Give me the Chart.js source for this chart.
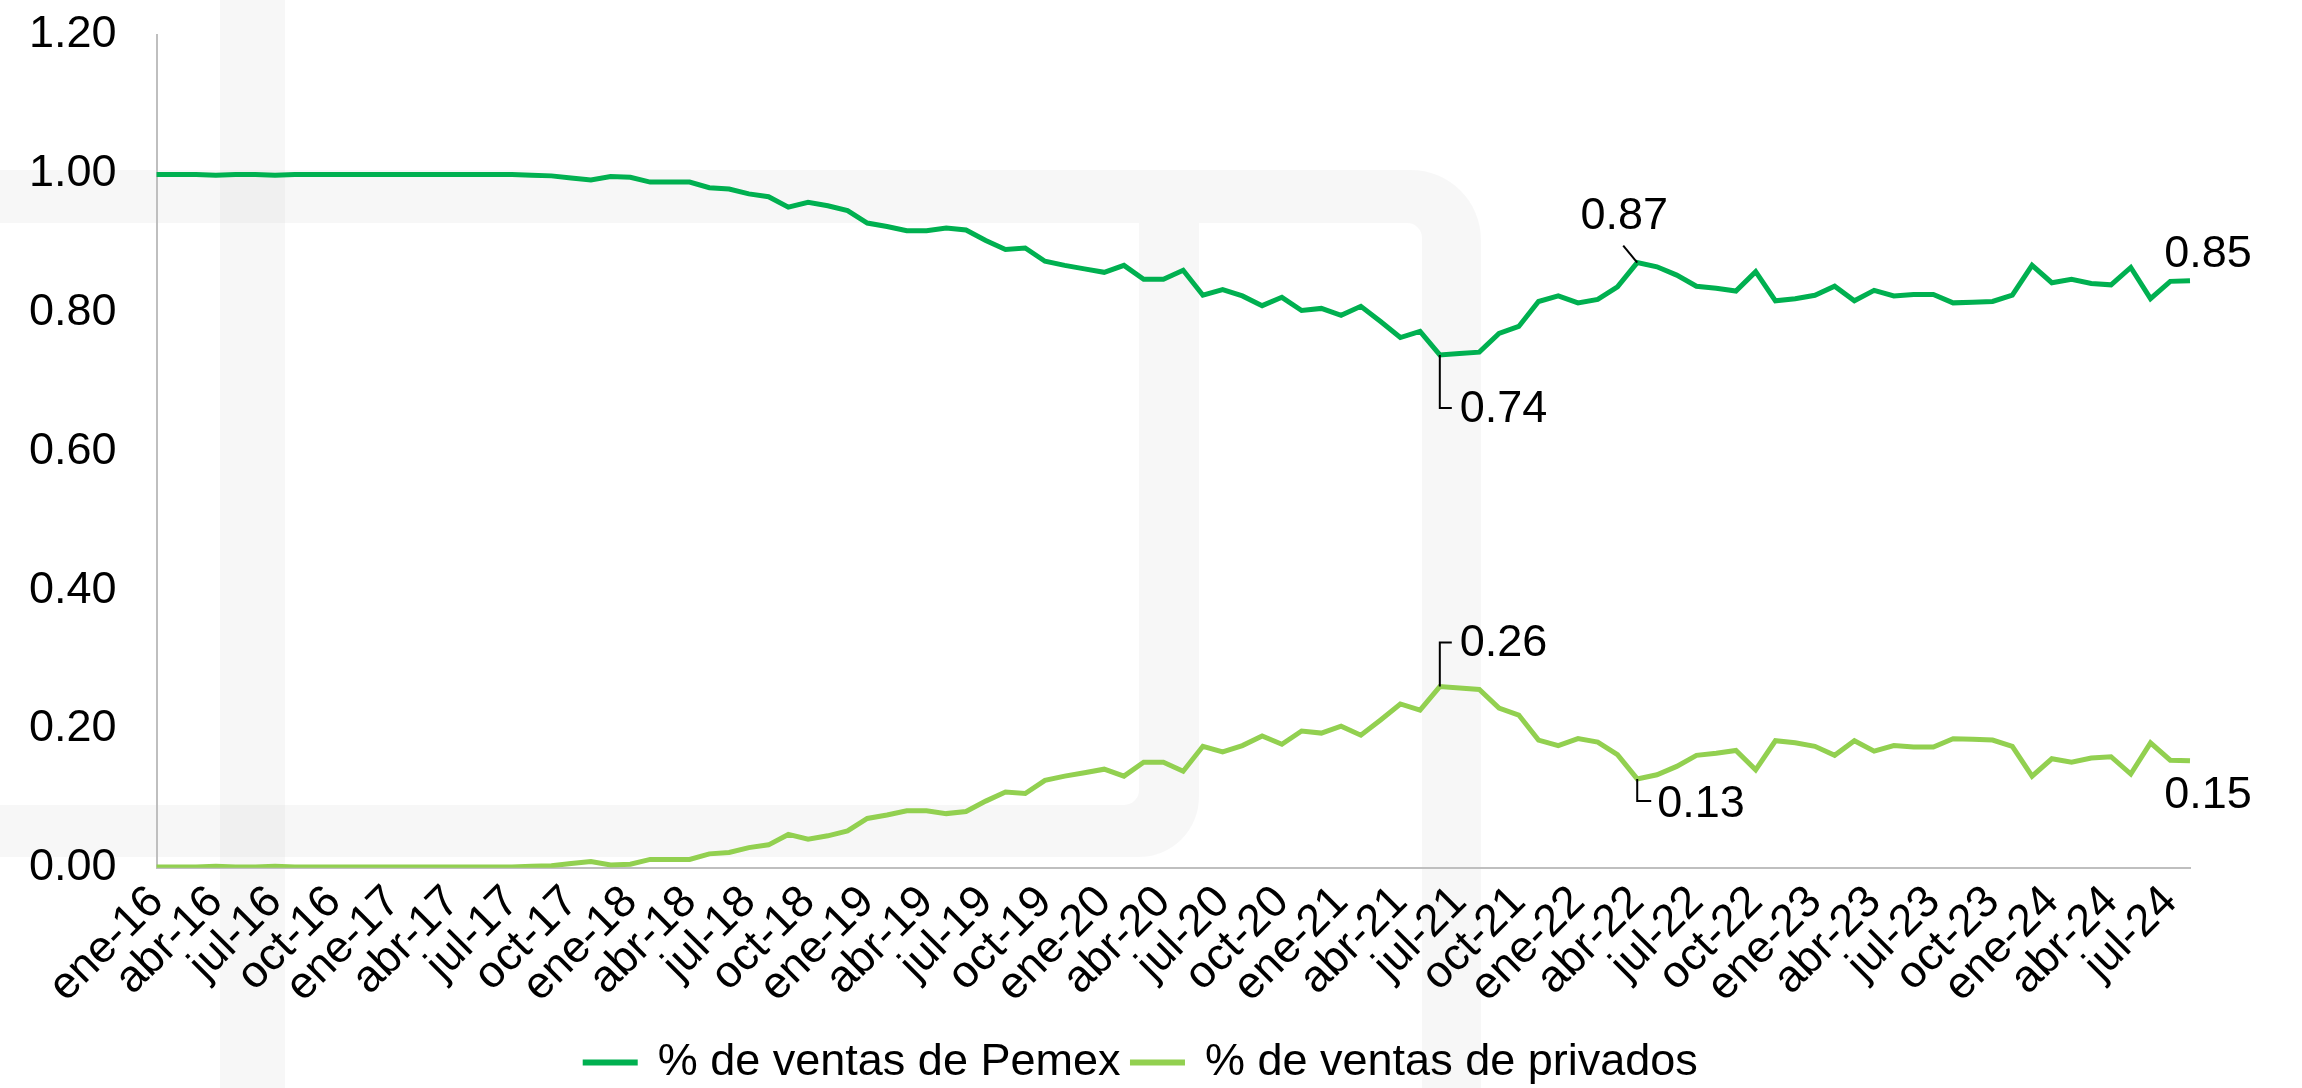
<!DOCTYPE html>
<html>
<head>
<meta charset="utf-8">
<script src="https://cdn.jsdelivr.net/npm/chart.js@4.4.1/dist/chart.umd.min.js"></script>
<style>
  html, body { margin: 0; padding: 0; background: #fff; }
  #wrap { width: 2302px; height: 1088px; }
</style>
</head>
<body>
<div id="wrap"><canvas id="grafico"></canvas></div>
<script>
const categorias = [
  'ene-16','feb-16','mar-16','abr-16','may-16','jun-16','jul-16','ago-16','sep-16','oct-16','nov-16','dic-16',
  'ene-17','feb-17','mar-17','abr-17','may-17','jun-17','jul-17','ago-17','sep-17','oct-17','nov-17','dic-17',
  'ene-18','feb-18','mar-18','abr-18','may-18','jun-18','jul-18','ago-18','sep-18','oct-18','nov-18','dic-18',
  'ene-19','feb-19','mar-19','abr-19','may-19','jun-19','jul-19','ago-19','sep-19','oct-19','nov-19','dic-19',
  'ene-20','feb-20','mar-20','abr-20','may-20','jun-20','jul-20','ago-20','sep-20','oct-20','nov-20','dic-20',
  'ene-21','feb-21','mar-21','abr-21','may-21','jun-21','jul-21','ago-21','sep-21','oct-21','nov-21','dic-21',
  'ene-22','feb-22','mar-22','abr-22','may-22','jun-22','jul-22','ago-22','sep-22','oct-22','nov-22','dic-22',
  'ene-23','feb-23','mar-23','abr-23','may-23','jun-23','jul-23','ago-23','sep-23','oct-23','nov-23','dic-23',
  'ene-24','feb-24','mar-24','abr-24','may-24','jun-24','jul-24','ago-24'
];

const ventasPemex = [
  0.999, 0.999, 0.999, 0.998, 0.999, 0.999, 0.998, 0.999, 0.999, 0.999, 0.999, 0.999,
  0.999, 0.999, 0.999, 0.999, 0.999, 0.999, 0.999, 0.998, 0.997, 0.994, 0.991, 0.996,
  0.995, 0.988, 0.988, 0.988, 0.980, 0.978, 0.971, 0.967, 0.952, 0.959, 0.954, 0.947,
  0.929, 0.924, 0.918, 0.918, 0.922, 0.919, 0.904, 0.891, 0.893, 0.874, 0.868, 0.863,
  0.858, 0.868, 0.848, 0.848, 0.861, 0.825, 0.833, 0.824, 0.810, 0.822, 0.803, 0.806,
  0.796, 0.809, 0.787, 0.764, 0.773, 0.739, 0.741, 0.743, 0.770, 0.780, 0.816, 0.824,
  0.814, 0.819, 0.837, 0.872, 0.866, 0.854, 0.838, 0.835, 0.831, 0.859, 0.817, 0.820,
  0.825, 0.838, 0.817, 0.832, 0.824, 0.826, 0.826, 0.814, 0.815, 0.816, 0.825, 0.868,
  0.843, 0.848, 0.842, 0.840, 0.865, 0.820, 0.845, 0.846
];

const ventasPrivados = [
  0.001, 0.001, 0.001, 0.002, 0.001, 0.001, 0.002, 0.001, 0.001, 0.001, 0.001, 0.001,
  0.001, 0.001, 0.001, 0.001, 0.001, 0.001, 0.001, 0.002, 0.003, 0.006, 0.009, 0.004,
  0.005, 0.012, 0.012, 0.012, 0.020, 0.022, 0.029, 0.033, 0.048, 0.041, 0.046, 0.053,
  0.071, 0.076, 0.082, 0.082, 0.078, 0.081, 0.096, 0.109, 0.107, 0.126, 0.132, 0.137,
  0.142, 0.132, 0.152, 0.152, 0.139, 0.175, 0.167, 0.176, 0.190, 0.178, 0.197, 0.194,
  0.204, 0.191, 0.213, 0.236, 0.227, 0.261, 0.259, 0.257, 0.230, 0.220, 0.184, 0.176,
  0.186, 0.181, 0.163, 0.128, 0.134, 0.146, 0.162, 0.165, 0.169, 0.141, 0.183, 0.180,
  0.175, 0.162, 0.183, 0.168, 0.176, 0.174, 0.174, 0.186, 0.185, 0.184, 0.175, 0.132,
  0.157, 0.152, 0.158, 0.160, 0.135, 0.180, 0.155, 0.154
];

const ticksY = [0, 0.2, 0.4, 0.6, 0.8, 1.0, 1.2];

const fuente = "'Liberation Sans', Arial, sans-serif";
const tam = 45;

// etiquetas de datos: serie, indice, linea guia (relativa al punto) y texto
const etiquetas = [
  { serie: 0, idx: 65, guia: [[0, 0], [0, 53], [12, 53]], tx: 20, ty: 55, alinea: 'left' },
  { serie: 0, idx: 75, guia: [[0, 0], [-14, -17]], tx: -13, ty: -46, alinea: 'center' },
  { serie: 0, idx: 103, guia: null, tx: 18, ty: -26, alinea: 'center' },
  { serie: 1, idx: 65, guia: [[0, 0], [0, -44], [12, -44]], tx: 20, ty: -43, alinea: 'left' },
  { serie: 1, idx: 75, guia: [[0, 0], [0, 22], [14, 22]], tx: 20, ty: 26, alinea: 'left' },
  { serie: 1, idx: 103, guia: null, tx: 18, ty: 35, alinea: 'center' }
];

// logo de fondo en gris muy claro
const marcaAgua = {
  id: 'marcaAgua',
  beforeDraw(chart) {
    const c = chart.ctx;
    c.save();
    c.fillStyle = 'rgba(0,0,0,0.03)';
    c.fillRect(220, 0, 65, 1088);

    c.beginPath();
    c.moveTo(0, 170);
    c.lineTo(1411, 170);
    c.arcTo(1481, 170, 1481, 240, 70);
    c.lineTo(1481, 1088);
    c.lineTo(1422, 1088);
    c.lineTo(1422, 238);
    c.arcTo(1422, 223, 1407, 223, 15);
    c.lineTo(0, 223);
    c.closePath();
    c.fill();

    c.beginPath();
    c.moveTo(0, 805);
    c.lineTo(1124, 805);
    c.arcTo(1139, 805, 1139, 790, 15);
    c.lineTo(1139, 223);
    c.lineTo(1199, 223);
    c.lineTo(1199, 797);
    c.arcTo(1199, 857, 1139, 857, 60);
    c.lineTo(0, 857);
    c.closePath();
    c.fill();
    c.restore();
  }
};

const etiquetasDatos = {
  id: 'etiquetasDatos',
  afterDatasetsDraw(chart) {
    const c = chart.ctx;
    c.save();
    c.font = tam + 'px ' + fuente;
    c.fillStyle = '#000';
    c.strokeStyle = '#000';
    c.lineWidth = 2;
    c.textBaseline = 'middle';
    etiquetas.forEach(e => {
      const p = chart.getDatasetMeta(e.serie).data[e.idx];
      const valor = chart.data.datasets[e.serie].data[e.idx];
      if (e.guia) {
        c.beginPath();
        e.guia.forEach((g, k) => {
          if (k === 0) c.moveTo(p.x + g[0], p.y + g[1]);
          else c.lineTo(p.x + g[0], p.y + g[1]);
        });
        c.stroke();
      }
      c.textAlign = e.alinea;
      c.fillText(valor.toFixed(2), p.x + e.tx, p.y + e.ty);
    });
    c.restore();
  }
};

// mueve la leyenda un poco a la derecha y abajo, como en el original
const leyendaDerecha = {
  id: 'leyendaDerecha',
  afterLayout(chart) {
    const l = chart.legend;
    l.left += 52;
    l.right += 52;
    l.top += 7;
    l.bottom += 7;
  }
};

new Chart(document.getElementById('grafico'), {
  type: 'line',
  data: {
    labels: categorias,
    datasets: [
      {
        label: '% de ventas de Pemex',
        data: ventasPemex,
        borderColor: '#00b050',
        backgroundColor: '#00b050',
        borderWidth: 5,
        pointRadius: 0,
        tension: 0
      },
      {
        label: '% de ventas de privados',
        data: ventasPrivados,
        borderColor: '#92d050',
        backgroundColor: '#92d050',
        borderWidth: 5,
        pointRadius: 0,
        tension: 0
      }
    ]
  },
  options: {
    responsive: true,
    maintainAspectRatio: false,
    animation: false,
    layout: { padding: { left: -11, right: 112, top: 35, bottom: 0 } },
    plugins: {
      legend: {
        position: 'bottom',
        labels: {
          color: '#000',
          font: { size: tam, family: fuente },
          boxWidth: 50,
          boxHeight: 1,
          padding: 12
        }
      },
      tooltip: { enabled: false }
    },
    scales: {
      x: {
        grid: { drawOnChartArea: false, drawTicks: false },
        border: { color: '#bfbfbf', width: 2 },
        afterFit: function (axis) { axis.paddingLeft = 0; axis.paddingRight = 0; },
        ticks: {
          color: '#000',
          font: { size: tam, family: fuente },
          autoSkip: false,
          minRotation: 45,
          maxRotation: 45,
          padding: 8,
          callback: function (v, i) { return i % 3 === 0 ? categorias[i] : ''; }
        }
      },
      y: {
        min: 0,
        max: 1.2,
        afterBuildTicks: function (axis) { axis.ticks = ticksY.map(v => ({ value: v })); },
        afterFit: function (axis) { axis.paddingTop = 0; axis.paddingBottom = 0; },
        grid: { drawOnChartArea: false, drawTicks: false },
        border: { color: '#bfbfbf', width: 2 },
        ticks: {
          color: '#000',
          font: { size: tam, family: fuente },
          padding: 40,
          callback: v => v.toFixed(2)
        }
      }
    }
  },
  plugins: [marcaAgua, etiquetasDatos, leyendaDerecha]
});
</script>
</body>
</html>
